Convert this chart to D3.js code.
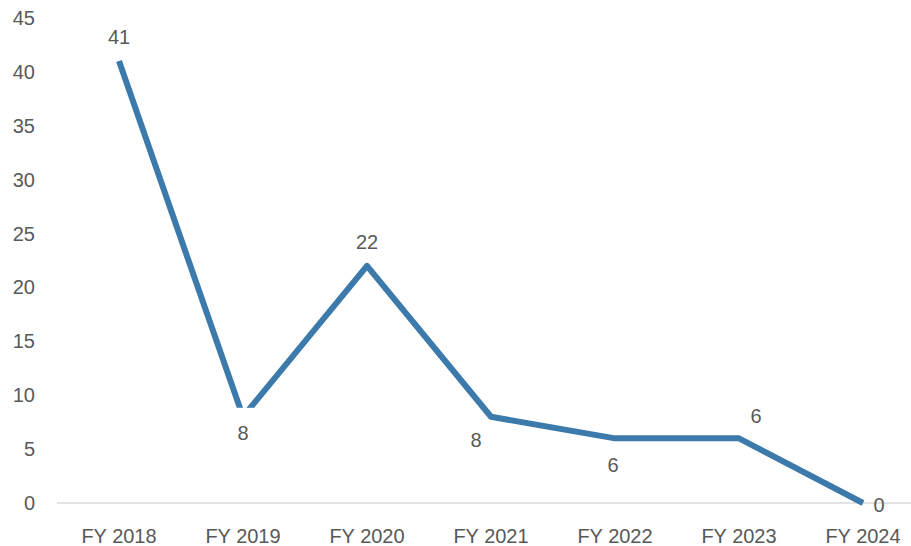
<!DOCTYPE html>
<html><head><meta charset="utf-8">
<script src="https://cdn.jsdelivr.net/npm/d3@7"></script>
<style>body{margin:0;background:#fff}svg{display:block}</style>
</head><body>
<script>
const categories = ["FY 2018","FY 2019","FY 2020","FY 2021","FY 2022","FY 2023","FY 2024"];
const values = [41, 8, 22, 8, 6, 6, 0];
const yTicks = [0,5,10,15,20,25,30,35,40,45];
// label placement: position relative to point
const labelPos = ["above","belowBox","above","belowLeft","below","aboveRight","right"];

const W = 911, H = 546;
const svg = d3.select("body").append("svg").attr("width", W).attr("height", H);
const x = d3.scaleBand().domain(categories).range([57, 925]);
const y = d3.scaleLinear().domain([0, 45]).range([503, 18]);
const font = "'Liberation Sans', Arial, sans-serif";
const tc = "#595959";
const fs = 20;

// baseline
svg.append("line").attr("x1", 57).attr("x2", 911).attr("y1", y(0)).attr("y2", y(0))
  .attr("stroke", "#d9d9d9").attr("stroke-width", 1.3);

// y tick labels
svg.append("g").selectAll("text").data(yTicks).join("text")
  .attr("x", 35).attr("y", d => y(d)).attr("dy", "0.35em")
  .attr("text-anchor", "end").attr("font-family", font).attr("font-size", fs)
  .attr("fill", tc).text(d => d);

// x tick labels
svg.append("g").selectAll("text").data(categories).join("text")
  .attr("x", d => x(d) + x.bandwidth()/2).attr("y", 536).attr("dy", "0.35em")
  .attr("text-anchor", "middle").attr("font-family", font).attr("font-size", fs)
  .attr("fill", tc).text(d => d);

const px = i => x(categories[i]) + x.bandwidth()/2;
const line = d3.line().x((d,i) => px(i)).y(d => y(d));
svg.append("path").datum(values).attr("d", line)
  .attr("fill", "none").attr("stroke", "#3b7aab").attr("stroke-width", 6)
  .attr("stroke-linejoin", "round").attr("stroke-linecap", "butt");

const off = {
  above: [0, -24], belowBox: [0, 16], belowLeft: [-15, 23], below: [-2, 27],
  aboveRight: [17, -22], right: [16, 2]
};
values.forEach((v, i) => {
  const o = off[labelPos[i]];
  const cx = px(i) + o[0], cy = y(v) + o[1];
  if (labelPos[i] === "belowBox") {
    svg.append("rect").attr("x", cx - 14).attr("y", y(v) - 9).attr("width", 28).attr("height", 38).attr("fill", "#fff");
  }
  svg.append("text").attr("x", cx).attr("y", cy).attr("dy", "0.35em")
    .attr("text-anchor", "middle").attr("font-family", font).attr("font-size", fs)
    .attr("fill", tc).text(v);
});
</script>
</body></html>
